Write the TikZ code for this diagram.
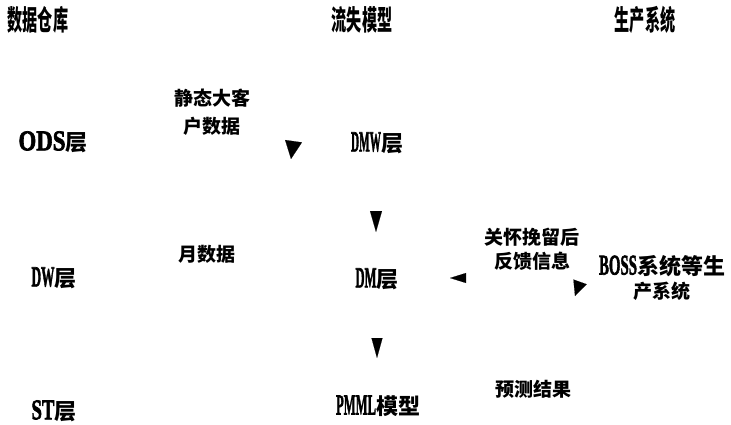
\documentclass[tikz,border=0pt]{standalone}
\usepackage{fontspec}
\usepackage{graphicx}
\usetikzlibrary{arrows.meta}
\newfontfamily\cjk{Noto Sans CJK SC}
\newfontfamily\latf[FakeBold=2.5]{Liberation Serif}
\newcommand{\hdr}[1]{\scalebox{0.54}[1]{\fontsize{28}{28}\selectfont\cjk\bfseries #1}}
\newcommand{\lt}[2]{\resizebox{#1}{19pt}{\latf\bfseries #2}}
\newcommand{\cj}[1]{{\fontsize{22}{22}\selectfont\cjk\bfseries #1}}
\tikzset{
  lbl/.style={inner sep=0pt, align=center},
  body/.style={lbl, font=\fontsize{19}{#1}\selectfont\cjk\bfseries},
  head/.style 2 args={draw=white, line width=0.1pt, -{Triangle[color=black,length=#1,width=#2]}}
}
\begin{document}
\begin{tikzpicture}[x=1pt,y=-1pt]
\useasboundingbox (0,0) rectangle (731,425);
% headers
\node[lbl] (h1) at (38,20) {\hdr{数据仓库}};
\node[lbl] (h2) at (362,20) {\hdr{流失模型}};
\node[lbl] (h3) at (645,20) {\hdr{生产系统}};
% data warehouse layers
\node[lbl] (ods) at (53,142) {\lt{47pt}{ODS}\cj{层}};
\node[lbl] (dw) at (54,278) {\lt{23pt}{DW}\cj{层}};
\node[lbl] (st) at (54,411) {\lt{23pt}{ST}\cj{层}};
% labels
\node[body=28] (sd) at (212,112) {静态大客\\户数据};
\node[body=19] (md) at (207,254) {月数据};
\node[body=24] (fb) at (532,249) {关怀挽留后\\反馈信息};
\node[body=19] (pr) at (533,389) {预测结果};
% model column
\node[lbl] (dmw) at (377,143) {\lt{30pt}{DMW}\cj{层}};
\node[lbl] (dm) at (377,279) {\lt{21pt}{DM}\cj{层}};
\node[lbl] (pmml) at (378,406) {\lt{40pt}{PMML}\cj{模型}};
% production system
\node[lbl, align=center] (boss) at (662,278) {\lt{38pt}{BOSS}\cj{系统等生}\\[4pt]{\fontsize{19}{19}\selectfont\cjk\bfseries 产系统}};
% arrowheads
\coordinate (a1s) at (293.7,140);  \coordinate (a1t) at (291,159);
\coordinate (a2s) at (376,210);    \coordinate (a2t) at (376,232);
\coordinate (a3s) at (467,278);    \coordinate (a3t) at (450,278);
\coordinate (a4s) at (580.5,280.5);\coordinate (a4t) at (575,296);
\coordinate (a5s) at (377,336);    \coordinate (a5t) at (377,358);
\draw[head={18pt}{17pt}] (a1s) -- (a1t);
\draw[head={21pt}{12pt}] (a2s) -- (a2t);
\draw[head={16pt}{10pt}] (a3s) -- (a3t);
\draw[head={15pt}{14pt}] (a4s) -- (a4t);
\draw[head={20pt}{11pt}] (a5s) -- (a5t);
\end{tikzpicture}
\end{document}
